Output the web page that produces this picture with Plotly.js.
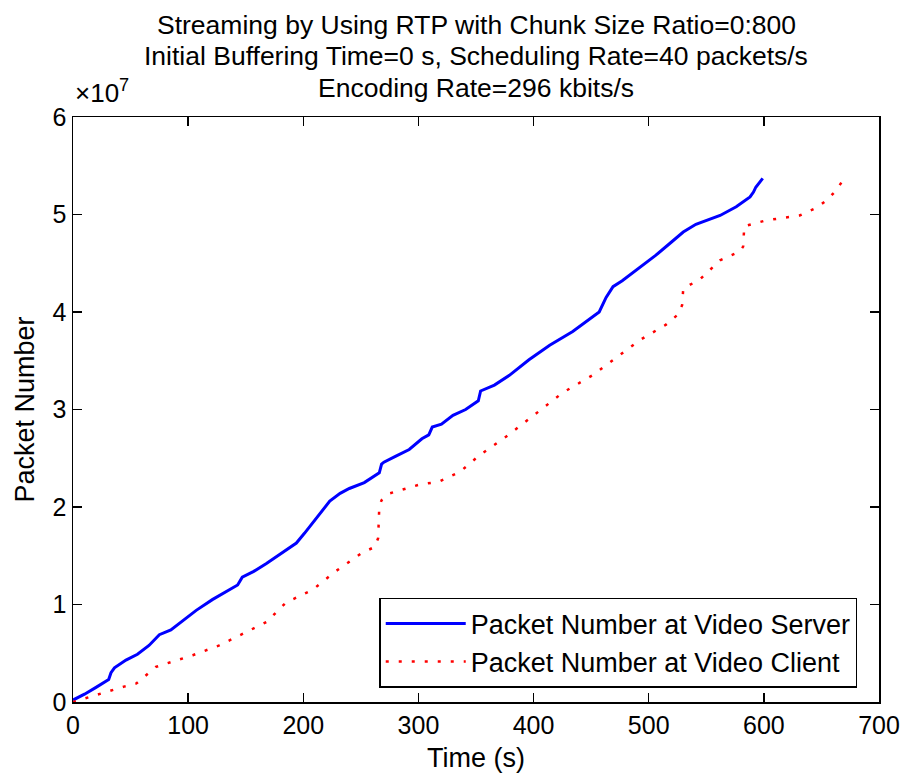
<!DOCTYPE html>
<html>
<head>
<meta charset="utf-8">
<script src="https://cdn.plot.ly/plotly-3.0.1.min.js"></script>
<style>html,body{margin:0;padding:0;background:#fff;}#chart{width:905px;height:776px;}</style>
</head>
<body>
<div id="chart"></div>
<script>
// Time (s) and packet number at the video server (blue solid)
const serverTime = [0, 10, 20, 31, 33, 36, 46, 56, 66, 75, 85, 95, 107, 121, 133, 143, 147, 157, 168, 180, 194, 201, 212, 223, 232, 240, 253, 266, 268, 270, 280, 292, 303, 309, 312, 320, 330, 341, 352, 354, 366, 379, 396, 414, 434, 446, 457, 463, 469, 477, 486, 506, 518, 530, 541, 552, 562, 576, 588, 591, 593, 599];
const serverPackets = [0.02e7, 0.08e7, 0.15e7, 0.23e7, 0.30e7, 0.35e7, 0.43e7, 0.49e7, 0.58e7, 0.69e7, 0.74e7, 0.83e7, 0.94e7, 1.05e7, 1.13e7, 1.20e7, 1.28e7, 1.34e7, 1.42e7, 1.52e7, 1.63e7, 1.73e7, 1.90e7, 2.06e7, 2.14e7, 2.19e7, 2.25e7, 2.35e7, 2.44e7, 2.46e7, 2.52e7, 2.59e7, 2.70e7, 2.74e7, 2.82e7, 2.85e7, 2.94e7, 3.00e7, 3.09e7, 3.19e7, 3.25e7, 3.35e7, 3.51e7, 3.66e7, 3.80e7, 3.90e7, 4.00e7, 4.15e7, 4.26e7, 4.32e7, 4.40e7, 4.58e7, 4.70e7, 4.82e7, 4.90e7, 4.95e7, 4.99e7, 5.08e7, 5.18e7, 5.23e7, 5.28e7, 5.37e7];

// Time (s) and packet number at the video client (red dotted)
const clientTime = [0, 15, 31, 45, 55, 64, 72, 88, 104, 127, 150, 168, 185, 208, 228, 251, 262, 265, 266, 268, 275, 301, 318, 336, 353, 376, 399, 425, 451, 469, 492, 515, 525, 529, 530, 536, 544, 562, 579, 582, 583, 602, 631, 646, 655, 663, 666, 668];
const clientPackets = [0, 0.05e7, 0.11e7, 0.16e7, 0.19e7, 0.28e7, 0.36e7, 0.42e7, 0.48e7, 0.58e7, 0.71e7, 0.82e7, 1.02e7, 1.15e7, 1.34e7, 1.53e7, 1.59e7, 1.68e7, 2.00e7, 2.07e7, 2.14e7, 2.23e7, 2.26e7, 2.36e7, 2.53e7, 2.72e7, 2.93e7, 3.17e7, 3.35e7, 3.51e7, 3.71e7, 3.87e7, 3.97e7, 4.07e7, 4.24e7, 4.28e7, 4.33e7, 4.53e7, 4.62e7, 4.67e7, 4.88e7, 4.94e7, 4.99e7, 5.07e7, 5.15e7, 5.25e7, 5.30e7, 5.34e7];

const yTickVals = [0, 1e7, 2e7, 3e7, 4e7, 5e7, 6e7];
const yTickText = ['0', '1', '2', '3', '4', '5', '6'];
const seriesNames = ['Packet Number at Video Server', 'Packet Number at Video Client'];
const titleLines = [
  'Streaming by Using RTP with Chunk Size Ratio=0:800',
  'Initial Buffering Time=0 s, Scheduling Rate=40 packets/s',
  'Encoding Rate=296 kbits/s'
];

const FONT = 'Arial, "Liberation Sans", Helvetica, sans-serif';

const traces = [
  {x: serverTime, y: serverPackets, type: 'scatter', mode: 'lines', name: seriesNames[0],
   line: {color: '#0000ff', width: 3}},
  {x: clientTime, y: clientPackets, type: 'scatter', mode: 'lines', name: seriesNames[1],
   line: {color: '#ff0000', width: 2.5, dash: '3px,10px'}}
];

const axisCommon = {
  showline: true, linecolor: '#000', linewidth: 1.5, mirror: 'ticks',
  ticks: 'inside', ticklen: 9, tickwidth: 1.5, tickcolor: '#000',
  showgrid: false, zeroline: false,
  tickfont: {family: FONT, size: 25, color: '#000'}
};

const titleY = [1.158, 1.104, 1.049];
const annotations = titleLines.map((t, i) => ({
  xref: 'paper', yref: 'paper', x: 0.5, y: titleY[i], xanchor: 'center', yanchor: 'middle',
  text: t, showarrow: false, font: {family: FONT, size: 26.5, color: '#000'}
}));
annotations.push({
  xref: 'paper', yref: 'paper', x: 0, y: 1, xanchor: 'left', yanchor: 'bottom', yshift: 7,
  text: '×10<sup>7</sup>', showarrow: false,
  font: {family: FONT, size: 26, color: '#000'}
});

const layout = {
  width: 905, height: 776,
  paper_bgcolor: '#fff', plot_bgcolor: '#fff',
  margin: {l: 73, r: 26, t: 117, b: 74},
  font: {family: FONT, color: '#000'},
  xaxis: Object.assign({}, axisCommon, {
    range: [0, 700], dtick: 100, tick0: 0,
    title: {text: 'Time (s)', font: {family: FONT, size: 27, color: '#000'}, standoff: 10}
  }),
  yaxis: Object.assign({}, axisCommon, {
    range: [0, 6e7], tickvals: yTickVals, ticktext: yTickText,
    title: {text: 'Packet Number', font: {family: FONT, size: 27, color: '#000'}, standoff: 10}
  }),
  legend: {
    x: 0.973, xanchor: 'right', y: 0.024, yanchor: 'bottom',
    bgcolor: '#fff', bordercolor: '#000', borderwidth: 1.5,
    font: {family: FONT, size: 27, color: '#000'},
    itemwidth: 80, tracegroupgap: 0
  },
  annotations: annotations,
  showlegend: true
};

Plotly.newPlot('chart', traces, layout, {displayModeBar: false, staticPlot: true});
</script>
</body>
</html>
